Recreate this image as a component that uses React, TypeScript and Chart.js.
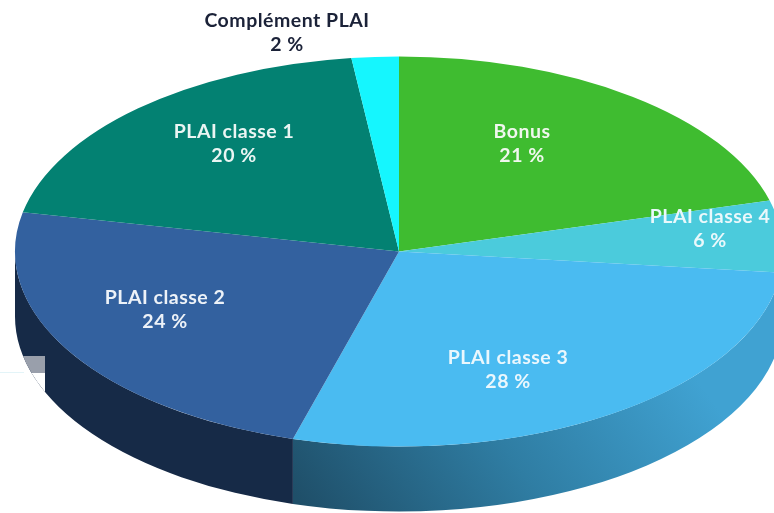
import React, { useEffect, useRef } from "react";
import { Chart, registerables } from "chart.js";

Chart.register(...registerables);

const categories = ["Bonus", "PLAI classe 4", "PLAI classe 3", "PLAI classe 2", "PLAI classe 1", "Complément PLAI"];
const shares = [21, 6, 28, 24, 20, 2];
const sliceColors = ["#3FBC30", "#4BCBDC", "#4ABBF1", "#33619F", "#038172", "#15F6FE"];
const labelCentres = [
  [522, 144],
  [710, 229],
  [508, 370],
  [165, 310],
  [234, 144],
  [287, 33],
];
const labelColors = ["#F0F7EE", "#EAF8FB", "#EAF7FD", "#EDF2F8", "#EAF5F3", "#1B2238"];

const CX = 399;
const CY = 251.5;
const RX = 384;
const RY = 195;
const DEPTH = 65;

const pie3d = {
  id: "pie3d",
  beforeDatasetsDraw(chart: any) {
    const ctx: CanvasRenderingContext2D = chart.ctx;
    const arcs = chart.getDatasetMeta(0).data;
    ctx.save();

    arcs.forEach((arc: any, i: number) => {
      const s = Math.max(arc.startAngle, 0);
      const e = Math.min(arc.endAngle, Math.PI);
      if (e <= s) return;
      ctx.beginPath();
      ctx.ellipse(CX, CY, RX, RY, 0, s, e, false);
      ctx.ellipse(CX, CY + DEPTH, RX, RY, 0, e, s, true);
      ctx.closePath();
      if (i === 3) {
        ctx.fillStyle = "#162A47";
      } else {
        const g = ctx.createLinearGradient(320, 530, 640, 300);
        g.addColorStop(0, "#1F4F69");
        g.addColorStop(0.5, "#2F7DA3");
        g.addColorStop(1, "#40A2D2");
        ctx.fillStyle = g;
      }
      ctx.fill();
    });

    // scan artefact on the left of the wall: grey patch, then a white cut
    ctx.save();
    ctx.beginPath();
    ctx.ellipse(CX, CY, RX, RY, 0, 0, Math.PI, false);
    ctx.ellipse(CX, CY + DEPTH, RX, RY, 0, Math.PI, 0, true);
    ctx.closePath();
    ctx.clip();
    ctx.fillStyle = "#999FAB";
    ctx.fillRect(0, 356, 45, 17);
    ctx.fillStyle = "#FFFFFF";
    ctx.fillRect(0, 373, 45, 40);
    ctx.restore();
    ctx.fillStyle = "#E3F4F8";
    ctx.fillRect(0, 372, 24, 1);

    // flatten the library's own arcs to the ellipse of the top face
    const a = arcs[0];
    const R = a.outerRadius;
    ctx.translate(CX, CY);
    ctx.scale(RX / R, RY / R);
    ctx.translate(-a.x, -a.y);
  },
  afterDatasetsDraw(chart: any) {
    const ctx: CanvasRenderingContext2D = chart.ctx;
    ctx.restore();
    ctx.save();
    ctx.font = 'bold 19.5px Lato, "Open Sans", sans-serif';
    (ctx as any).letterSpacing = "0.5px";
    ctx.textAlign = "center";
    ctx.textBaseline = "middle";
    categories.forEach((name, i) => {
      const [x, y] = labelCentres[i];
      ctx.fillStyle = labelColors[i];
      ctx.fillText(name, x, y - 12);
      ctx.fillText(`${shares[i]} %`, x, y + 12);
    });
    ctx.restore();
  },
};

export default function App() {
  const ref = useRef<HTMLCanvasElement>(null);
  useEffect(() => {
    const chart = new Chart(ref.current!, {
      type: "pie",
      data: {
        labels: categories,
        datasets: [
          {
            data: shares,
            backgroundColor: sliceColors,
            borderWidth: 0,
            clip: false,
          } as any,
        ],
      },
      options: {
        animation: false,
        responsive: false,
        events: [],
        plugins: { legend: { display: false }, tooltip: { enabled: false } },
      },
      plugins: [pie3d],
    });
    return () => chart.destroy();
  }, []);
  return (
    <div style={{ position: "fixed", left: 0, top: 0, width: 774, height: 513, background: "#fff", overflow: "hidden" }}>
      <canvas ref={ref} width={774} height={513} style={{ display: "block" }} />
    </div>
  );
}
